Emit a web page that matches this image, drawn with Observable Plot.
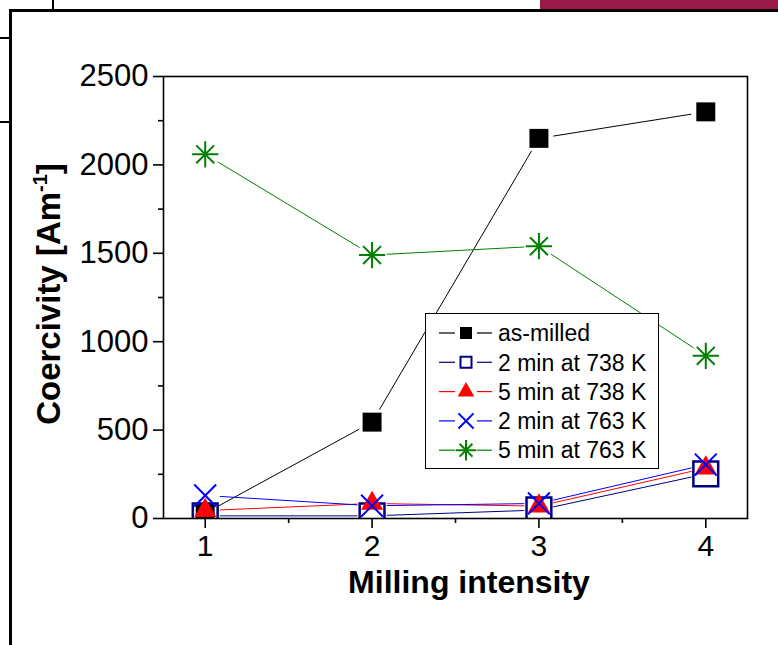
<!DOCTYPE html>
<html><head><meta charset="utf-8">
<script src="https://cdn.jsdelivr.net/npm/d3@7"></script>
<script src="https://cdn.jsdelivr.net/npm/@observablehq/plot@0.6"></script>
<style>
body{margin:0;background:#fff;}
#wrap{position:relative;width:778px;height:645px;overflow:hidden;font-family:"Liberation Sans",Arial,sans-serif;}
#chart svg{position:absolute;left:0;top:0;background:transparent;}
.deco{position:absolute;background:#000;z-index:5;}
#legend{position:absolute;left:425px;top:313px;width:232px;height:154px;border:1.5px solid #000;background:#fff;z-index:4;}
</style></head><body>
<div id="wrap"><div id="chart"></div>
<div id="legend"></div>
<div class="deco" style="left:540px;top:0;width:238px;height:9px;background:#981a46"></div>
<div class="deco" style="left:9px;top:9px;width:769px;height:3px"></div>
<div class="deco" style="left:9px;top:9px;width:3px;height:636px"></div>
<div class="deco" style="left:52px;top:0;width:2px;height:10px"></div>
<div class="deco" style="left:0;top:37px;width:10px;height:2px"></div>
<div class="deco" style="left:0;top:121px;width:10px;height:2px"></div>
</div>
<script>
const intensity = [1, 2, 3, 4];
const seriesNames = ["as-milled", "2 min at 738 K", "5 min at 738 K", "2 min at 763 K", "5 min at 763 K"];
const asMilled  = [30, 545, 2150, 2300];
const min2at738 = [15, 15, 48, 252];
const min5at738 = [45, 85, 70, 285];
const min2at763 = [130, 72, 85, 305];
const min5at763 = [2060, 1490, 1540, 920];
const yTicks = [0, 500, 1000, 1500, 2000, 2500];
const yMinorTicks = [250, 750, 1250, 1750, 2250];
const xTicks = [1, 2, 3, 4];
const xMinorTicks = [1.5, 2.5, 3.5];
const xLabel = "Milling intensity";
const yLabel = "Coercivity [Am";
const yLabelSup = "-1";

const seriesValues = [asMilled, min2at738, min5at738, min2at763, min5at763];
const colors = ["#000000", "#000080", "#ff0000", "#0000ff", "#008000"];

const points = [], segs = [];
seriesValues.forEach((vals, s) => {
  vals.forEach((v, j) => {
    points.push({s, x: intensity[j], y: v});
    if (j < vals.length - 1) segs.push({s, x1: intensity[j], y1: v, x2: intensity[j + 1], y2: vals[j + 1]});
  });
});

function markerMarks(s, data) {
  const c = colors[s];
  switch (s) {
    case 0: return [Plot.dot(data, {x: "x", y: "y", symbol: "square", r: 10.7, fill: c, stroke: "none", clip: "frame"})];
    case 1: return [Plot.dot(data, {x: "x", y: "y", symbol: "square", r: 14, fill: "none", stroke: c, strokeWidth: 2.5, clip: "frame"})];
    case 2: return [Plot.dot(data, {x: "x", y: "y", symbol: "triangle", r: 8.2, fill: c, stroke: "none", clip: "frame"})];
    case 3: return [Plot.dot(data, {x: "x", y: "y", symbol: "times", r: 10, fill: "none", stroke: c, strokeWidth: 2, clip: "frame"})];
    default: return [
      Plot.dot(data, {x: "x", y: "y", symbol: "plus", r: 8.5, fill: "none", stroke: c, strokeWidth: 2, clip: "frame"}),
      Plot.dot(data, {x: "x", y: "y", symbol: "times", r: 8.2, fill: "none", stroke: c, strokeWidth: 2, clip: "frame"}),
      Plot.dot(data, {x: "x", y: "y", r: 2, fill: c, stroke: "none", clip: "frame"})
    ];
  }
}

const seriesMarks = [];
seriesValues.forEach((_, s) => {
  seriesMarks.push(Plot.arrow(segs.filter(d => d.s === s), {
    x1: "x1", y1: "y1", x2: "x2", y2: "y2", stroke: colors[s], strokeWidth: 1,
    headLength: 0, insetStart: 15, insetEnd: 15, clip: "frame"
  }));
  seriesMarks.push(...markerMarks(s, points.filter(d => d.s === s)));
});

const fmt = d => String(d);
const chart = Plot.plot({
  width: 778, height: 645,
  marginLeft: 163, marginRight: 31, marginTop: 76, marginBottom: 127,
  style: {fontFamily: "Liberation Sans, Arial, sans-serif", fontSize: "30px", background: "transparent", color: "#000"},
  x: {domain: [0.75, 4.25]},
  y: {domain: [0, 2500]},
  marks: [
    ...seriesMarks,
    Plot.frame({stroke: "#000", strokeWidth: 1.6}),
    Plot.axisX(xTicks, {tickSize: 10, tickPadding: 6, strokeWidth: 1.6, fontSize: 30, tickFormat: fmt, label: null}),
    Plot.axisX(xMinorTicks, {tickSize: 5, strokeWidth: 1.6, tickFormat: () => "", label: null}),
    Plot.axisY(yTicks, {tickSize: 10, tickPadding: 5, strokeWidth: 1.6, fontSize: 31, tickFormat: fmt, label: null}),
    Plot.axisY(yMinorTicks, {tickSize: 5, strokeWidth: 1.6, tickFormat: () => "", label: null})
  ]
});
document.getElementById("chart").appendChild(chart);

// axis titles
const svg = d3.select(chart);
svg.append("text")
  .attr("x", 469).attr("y", 593)
  .attr("text-anchor", "middle")
  .attr("font-weight", "bold").attr("font-size", 32)
  .attr("font-family", "Liberation Sans, Arial, sans-serif")
  .attr("fill", "#000")
  .text(xLabel);
const yl = svg.append("text")
  .attr("transform", "translate(60,294) rotate(-90)")
  .attr("text-anchor", "middle")
  .attr("font-weight", "bold").attr("font-size", 33)
  .attr("font-family", "Liberation Sans, Arial, sans-serif")
  .attr("fill", "#000");
yl.append("tspan").text(yLabel);
yl.append("tspan").attr("font-size", 20).attr("dy", -13).text(yLabelSup);
yl.append("tspan").attr("font-size", 33).attr("dy", 13).text("]");

// legend
const leg = d3.select("#legend");
const rowH = 29.3;
const lsvg = leg.append("svg").attr("width", 232).attr("height", 154)
  .style("position", "absolute").style("left", 0).style("top", 0);
const legSymbols = [
  {type: d3.symbolSquare, size: 144, fill: true},
  {type: d3.symbolSquare, size: 121, fill: false, sw: 2},
  {type: d3.symbolTriangle, size: 120, fill: true},
  {type: d3.symbolTimes, size: 150, fill: false, sw: 2},
  {type: "star", fill: false, sw: 2}
];
seriesNames.forEach((name, s) => {
  const cy = 19 + s * rowH;
  const g = lsvg.append("g").attr("transform", `translate(0,${cy})`);
  g.append("line").attr("x1", 13).attr("x2", 29).attr("y1", 0).attr("y2", 0).attr("stroke", colors[s]).attr("stroke-width", 1.2);
  g.append("line").attr("x1", 51).attr("x2", 66).attr("y1", 0).attr("y2", 0).attr("stroke", colors[s]).attr("stroke-width", 1.2);
  const sym = legSymbols[s];
  const mg = g.append("g").attr("transform", "translate(40,0)");
  if (sym.type === "star") {
    mg.append("path").attr("d", d3.symbol(d3.symbolPlus, 140)()).attr("fill", "none").attr("stroke", colors[s]).attr("stroke-width", 2);
    mg.append("path").attr("d", d3.symbol(d3.symbolTimes, 110)()).attr("fill", "none").attr("stroke", colors[s]).attr("stroke-width", 2);
  } else {
    mg.append("path").attr("d", d3.symbol(sym.type, sym.size)())
      .attr("fill", sym.fill ? colors[s] : "none")
      .attr("stroke", sym.fill ? "none" : colors[s])
      .attr("stroke-width", sym.sw || 0);
  }
  g.append("text").attr("x", 72).attr("y", 0).attr("dy", "0.36em")
    .attr("font-size", 23).attr("font-family", "Liberation Sans, Arial, sans-serif")
    .attr("fill", "#000").text(name);
});
</script>
</body></html>
